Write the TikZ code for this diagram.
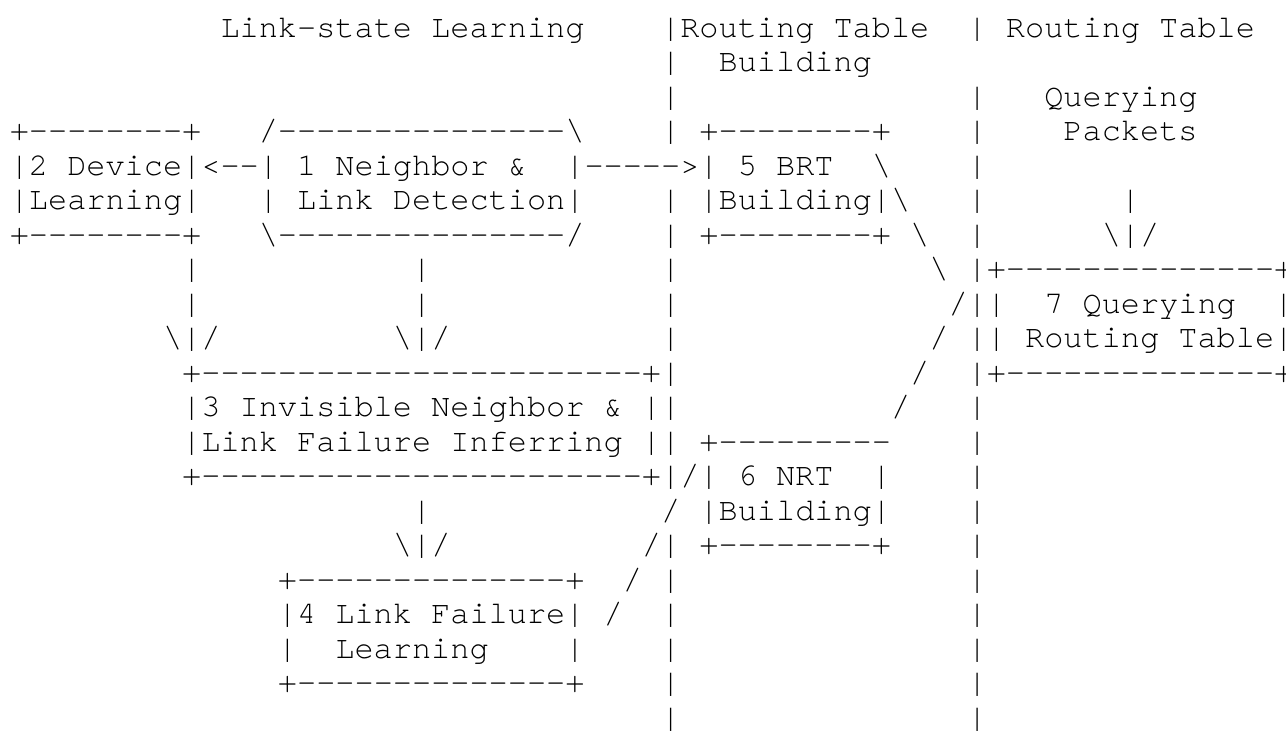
\documentclass[tikz,border=0pt]{standalone}
\usepackage{fontspec}
\setmonofont{TeX Gyre Cursor}
\newcommand\sk[1]{\kern#1\fontcharwd\font`\x\relax}
\newcommand\asciifont{\ttfamily\fontsize{31.93pt}{34.5pt}\selectfont}
\begingroup
\catcode`\!=0
\catcode`\&=12
\catcode`\ =13%
!catcode`!\=12%
!gdef {!sk{1}}%
!gdef!lnA{!sk{11}Link-state Learning!sk{4}|Routing Table!sk{2}| Routing Table}%
!gdef!lnB{!sk{34}|!sk{2}Building}%
!gdef!lnC{!sk{34}|!sk{15}|!sk{3}Querying}%
!gdef!lnD{+--------+!sk{3}/---------------\!sk{4}| +--------+!sk{4}|!sk{4}Packets}%
!gdef!lnE{|2 Device|<--| 1 Neighbor &!sk{2}|----->| 5 BRT!sk{2}\!sk{4}|}%
!gdef!lnF{|Learning|!sk{3}| Link Detection|!sk{4}| |Building|\!sk{3}|!sk{7}|}%
!gdef!lnG{+--------+!sk{3}\---------------/!sk{4}| +--------+ \!sk{2}|!sk{6}\|/}%
!gdef!lnH{!sk{9}|!sk{11}|!sk{12}|!sk{13}\ |+--------------!rlap{+}}%
!gdef!lnI{!sk{9}|!sk{11}|!sk{12}|!sk{14}/||!sk{2}7 Querying!sk{2}!rlap{|}}%
!gdef!lnJ{!sk{8}\|/!sk{9}\|/!sk{11}|!sk{13}/ || Routing Table!rlap{|}}%
!gdef!lnK{!sk{9}+-----------------------+|!sk{12}/!sk{2}|+--------------!rlap{+}}%
!gdef!lnL{!sk{9}|3 Invisible Neighbor & ||!sk{11}/!sk{3}|}%
!gdef!lnM{!sk{9}|Link Failure Inferring || +---------!sk{4}|}%
!gdef!lnN{!sk{9}+-----------------------+|/| 6 NRT!sk{2}|!sk{4}|}%
!gdef!lnO{!sk{21}|!sk{12}/ |Building|!sk{4}|}%
!gdef!lnP{!sk{20}\|/!sk{10}/| +--------+!sk{4}|}%
!gdef!lnQ{!sk{14}+--------------+!sk{2}/ |!sk{15}|}%
!gdef!lnR{!sk{14}|4 Link Failure| /!sk{2}|!sk{15}|}%
!gdef!lnS{!sk{14}|!sk{2}Learning!sk{4}|!sk{4}|!sk{15}|}%
!gdef!lnT{!sk{14}+--------------+!sk{4}|!sk{15}|}%
!gdef!lnU{!sk{34}|!sk{15}|}%
!endgroup
\begin{document}
\begin{tikzpicture}[x=1pt,y=1pt,
  asciiline/.style={anchor=base west,inner sep=0pt,outer sep=0pt,font=\asciifont,text=black}]
\useasboundingbox (0,0) rectangle (1286,-732);
\node[asciiline] (l1)  at (9.78,-37.3)  {\lnA};
\node[asciiline] (l2)  at (9.78,-71.8)  {\lnB};
\node[asciiline] (l3)  at (9.78,-106.3) {\lnC};
\node[asciiline] (l4)  at (9.78,-140.8) {\lnD};
\node[asciiline] (l5)  at (9.78,-175.3) {\lnE};
\node[asciiline] (l6)  at (9.78,-209.8) {\lnF};
\node[asciiline] (l7)  at (9.78,-244.3) {\lnG};
\node[asciiline] (l8)  at (9.78,-278.8) {\lnH};
\node[asciiline] (l9)  at (9.78,-313.3) {\lnI};
\node[asciiline] (l10) at (9.78,-347.8) {\lnJ};
\node[asciiline] (l11) at (9.78,-382.3) {\lnK};
\node[asciiline] (l12) at (9.78,-416.8) {\lnL};
\node[asciiline] (l13) at (9.78,-451.3) {\lnM};
\node[asciiline] (l14) at (9.78,-485.8) {\lnN};
\node[asciiline] (l15) at (9.78,-520.3) {\lnO};
\node[asciiline] (l16) at (9.78,-554.8) {\lnP};
\node[asciiline] (l17) at (9.78,-589.3) {\lnQ};
\node[asciiline] (l18) at (9.78,-623.8) {\lnR};
\node[asciiline] (l19) at (9.78,-658.3) {\lnS};
\node[asciiline] (l20) at (9.78,-692.8) {\lnT};
\node[asciiline] (l21) at (9.78,-727.3) {\lnU};
\end{tikzpicture}
\end{document}
